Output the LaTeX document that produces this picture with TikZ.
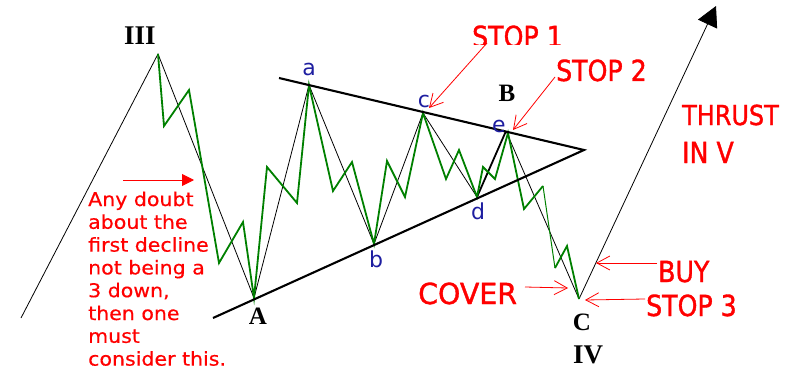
\documentclass[tikz,border=0pt]{standalone}
\usepackage{fontspec}
\setmainfont{Liberation Serif}
\newfontfamily\redf[FakeStretch=0.87,FakeBold=1.2]{DejaVu Sans}
\newfontfamily\coverf[FakeStretch=0.98,FakeBold=1.2]{DejaVu Sans}
\newfontfamily\notef[FakeStretch=1.08,FakeBold=0.5]{DejaVu Sans}
\newfontfamily\lblf{DejaVu Sans}
\usetikzlibrary{arrows.meta}
\definecolor{wgreen}{RGB}{0,128,0}
\definecolor{lblue}{RGB}{30,30,160}
\definecolor{rred}{RGB}{255,0,0}
\begin{document}
\begin{tikzpicture}[x=1pt,y=-1pt,
  thinline/.style={black,line width=0.8pt},
  trline/.style={black,line width=2.1pt},
  gline/.style={wgreen,line width=1.8pt,line join=miter},
  wlbl/.style={lblue,font=\lblf\fontsize{22}{22}\selectfont,inner sep=0pt},
  plbl/.style={font=\bfseries\fontsize{25}{25}\selectfont,inner sep=0pt},
  rlbl/.style={rred,font=\redf\fontsize{29}{29}\selectfont,inner sep=0pt,anchor=base west},
  rarrow/.style={rred,line width=0.8pt,-{Straight Barb[length=13pt,width=14pt]}},
  noteline/.style={rred,font=\notef\fontsize{19}{19}\selectfont,inner sep=0pt,anchor=base west}]
\useasboundingbox (0,0) rectangle (796,369);
% wave points
\coordinate (p0) at (21,318);
\coordinate (III) at (158,54);
\coordinate (A) at (254,298);
\coordinate (a) at (309,85);
\coordinate (b) at (374,244);
\coordinate (c) at (423,113);
\coordinate (d) at (477,197);
\coordinate (e) at (506,131);
\coordinate (C) at (579,299);
\coordinate (tip) at (716,6);
% triangle
\coordinate (u0) at (279,78);
\coordinate (apex) at (584,150);
\coordinate (l0) at (213,318);
% black wave
\draw[thinline] (p0) -- (III) -- (A) -- (a) -- (b) -- (c) -- (d);
\draw[black,line width=1.8pt] (d) -- (e);
\draw[thinline] (e) -- (C);
\draw[thinline,-{Triangle[length=20pt,width=21pt]}] (C) -- (tip);
% green wave
\draw[gline] (III) -- (164,126) -- (189,90) -- (219,263) -- (243,222) -- (A)
  -- (267,167) -- (297,203) -- (a) -- (333,191) -- (352,162) -- (b)
  -- (387,161) -- (405,197) -- (c) -- (446,179) -- (459,150) -- (d)
  -- (483,167) -- (495,179) -- (508,133) -- (524,209) -- (543,186);
\draw[wgreen,line width=1pt] (543,186) -- (555,268);
\draw[gline] (555,268) -- (567,246) -- (C);
% triangle lines
\draw[trline] (u0) -- (apex) -- (l0);
% wave labels
\node[wlbl] (la) at (309,69) {a};
\node[wlbl] (lb) at (376,259) {b};
\node[wlbl] (lc) at (424,101) {c};
\node[wlbl] (ld) at (478,211.5) {d};
\node[wlbl] (le) at (499,126) {e};
\node[plbl,font=\bfseries\fontsize{27}{27}\selectfont] (lIII) at (140,36) {III};
\node[plbl] (lA) at (258,316.5) {A};
\node[plbl] (lB) at (507,93) {B};
\node[plbl] (lC) at (582,322) {C};
\node[plbl,font=\bfseries\fontsize{27}{27}\selectfont] (lIV) at (588,355) {IV};
% red labels
\begin{scope}
\clip (460,15) rectangle (580,45);
\node[rlbl] (stop1) at (472,47) {STOP 1};
\end{scope}
\node[rlbl] (stop2) at (556,81) {STOP 2};
\node[rlbl,font=\redf\fontsize{27.5}{27.5}\selectfont] (thrust) at (682,125) {THRUST};
\node[rlbl] (inv) at (682,163) {IN V};
\node[rlbl,font=\coverf\fontsize{29}{29}\selectfont] (cover) at (418,304) {COVER};
\node[rlbl] (buy) at (658,282) {BUY};
\node[rlbl] (stop3) at (646,316) {STOP 3};
% red arrows
\coordinate (s1a) at (487,43);
\coordinate (s1b) at (429,108);
\coordinate (s2a) at (555,77);
\coordinate (s2b) at (513,130);
\coordinate (cva) at (525,287);
\coordinate (cvb) at (568,288);
\coordinate (bya) at (657,263);
\coordinate (byb) at (596,263);
\coordinate (s3a) at (645,299);
\coordinate (s3b) at (585,300);
\draw[rarrow] (s1a) -- (s1b);
\draw[rarrow] (s2a) -- (s2b);
\draw[rarrow] (cva) -- (cvb);
\draw[rarrow] (bya) -- (byb);
\draw[rarrow] (s3a) -- (s3b);
% note
\coordinate (na) at (123,180);
\coordinate (nb) at (194,180);
\draw[rred,line width=0.9pt,-{Triangle[length=12pt,width=12pt]}] (na) -- (nb);
\foreach \t [count=\i] in {Any doubt,about the,first decline,not being a,{3 down,},then one,must,consider this.}
  \node[noteline] (n\i) at (88,{206+22.8*(\i-1)}) {\t};
\end{tikzpicture}
\end{document}
